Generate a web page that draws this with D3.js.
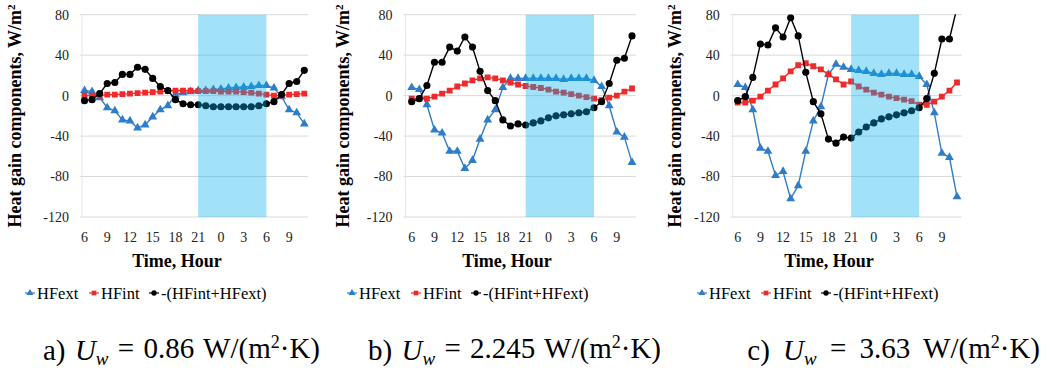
<!DOCTYPE html>
<html><head><meta charset="utf-8">
<script src="https://cdn.jsdelivr.net/npm/d3@7"></script>
<style>body{margin:0;background:#fff} svg{display:block}</style>
</head><body>
<svg id="chart" width="1049" height="377"></svg>
<script>
// ---------- DATA ----------
const hours = [6,7,8,9,10,11,12,13,14,15,16,17,18,19,20,21,22,23,0,1,2,3,4,5,6,7,8,9,10,11];
const tickIndex = [0,3,6,9,12,15,18,21,24,27];
const tickLabels = ["6","9","12","15","18","21","0","3","6","9"];
const yTicks = [80,40,0,-40,-80,-120];
const shadeIndex = [15,24]; // 21 h -> 6 h
const seriesNames = ["HFext","HFint","-(HFint+HFext)"];

const hfextA = [5,4,-2,-12,-15,-24,-25,-32,-29,-21,-14,-10,1,3,4,5,5,6,6.5,7.5,8,8.5,9,10,10,7.5,-1,-14,-17,-28];
const hfintA = [0,0,0,1,1,1.5,2,2.5,3,3.5,4,4.5,5,5,5,4.5,4.5,4.5,4,4,4,3.5,3,2,1,0,0,1,1.5,2];
const negSumA = [-5,-4,2,12,13,21,21,28,26,17,9,5,-4,-8,-9,-9,-10,-11,-11,-11,-11,-11,-11,-10,-8,-6,1,12,14,25];

const hfextB = [8,6,-9,-34,-37,-55,-55,-72,-64,-43,-24,-14,8,17,17,17,17,17,17,17,16,17,17,17,15,9,-10,-36,-41,-66];
const hfintB = [-3,-3,-3,-1,2,5,9,12,15,17,18,17,15,13,11,9.5,8.5,7.5,6,4,3,1.5,0,-1.5,-3,-4.5,-2,0,4,7];
const negSumB = [-6,-3,10,33,33,48,44,58,48,24,5,-5,-24,-30,-28,-29,-27,-25,-22,-20,-19,-18,-17,-16,-12,-6,12,35,37,59];

const hfextC = [11,8,-14,-52,-55,-79,-75,-102,-89,-55,-25,-11,21,31,28,26,25,24,22,21,22,22,21,21,19,11,-17,-57,-61,-100];
const hfintC = [-7,-7,-5,-1,5,11,17,24,30,32,29,26,21,16,11,14,9,6,3,1,-1,-2.5,-4,-5.5,-9,-9,-6,-1,5,13];
const negSumC = [-5,-1,18,51,50,67,58,77,59,23,-6,-18,-43,-47,-41,-42,-36,-31,-27,-23,-21,-19,-17,-15,-12,-3,22,56,56,87];

const uwValues = ["0.86","2.245","3.63"];
const panelLetters = ["a)","b)","c)"];

// ---------- LAYOUT ----------
const panels = [
  {ext:hfextA, int:hfintA, neg:negSumA, p0:84.5, p1:304.3, gl:80, gr:308.3, yTitleX:15, xTitleX:177, legX:30, capX:43, capAnchor:"start", capW:277},
  {ext:hfextB, int:hfintB, neg:negSumB, p0:411.7, p1:632, gl:403.5, gr:636, yTitleX:343, xTitleX:507, legX:352, capX:368, capAnchor:"start", capW:293},
  {ext:hfextC, int:hfintC, neg:negSumC, p0:737.7, p1:957, gl:730.7, gr:961.7, yTitleX:675, xTitleX:829, legX:702, capX:1040, capAnchor:"end", capW:305}
];
const colors = {ext:"#2F7DC8", int:"#F02A2A", neg:"#000000", shade:"rgba(0,176,240,0.37)", grid:"#D9D9D9"};
const serif = "'Liberation Serif','Times New Roman',serif";

const svg = d3.select("#chart");
svg.append("rect").attr("width",1049).attr("height",377).attr("fill","#fff");

const y = d3.scaleLinear().domain([-120,80]).range([217,14.7]);

const triangle = d3.symbol().type(d3.symbolTriangle).size(34);
const square = d3.symbol().type(d3.symbolSquare).size(34);
const circle = d3.symbol().type(d3.symbolCircle).size(40);

panels.forEach((p, pi) => {
  const g = svg.append("g");
  const x = d3.scalePoint().domain(d3.range(hours.length)).range([p.p0, p.p1]);
  const clipId = "clip" + pi;
  svg.append("defs").append("clipPath").attr("id", clipId)
    .append("rect").attr("x", p.gl).attr("y", y(80) - 0.5).attr("width", p.gr - p.gl + 6).attr("height", y(-120) - y(80) + 1);

  // gridlines
  g.selectAll("line.grid").data(yTicks).enter().append("line")
    .attr("x1", p.gl).attr("x2", p.gr).attr("y1", d => y(d)).attr("y2", d => y(d))
    .attr("stroke", colors.grid).attr("stroke-width", 1);
  g.append("line").attr("x1", p.gl + 2).attr("x2", p.gl + 2).attr("y1", y(80)).attr("y2", y(-120))
    .attr("stroke", "#E6E6E6").attr("stroke-width", 1);

  // y tick labels
  g.selectAll("text.yt").data(yTicks).enter().append("text")
    .attr("x", p.gl - 11).attr("y", d => y(d)).attr("dy", "0.35em")
    .attr("text-anchor", "end").attr("font-family", serif).attr("font-size", 14).attr("fill", "#222")
    .text(d => d);

  // x tick labels
  g.selectAll("text.xt").data(tickIndex).enter().append("text")
    .attr("x", d => x(d)).attr("y", 242)
    .attr("text-anchor", "middle").attr("font-family", serif).attr("font-size", 14).attr("fill", "#222")
    .text((d, i) => tickLabels[i]);

  // axis titles
  g.append("text").attr("transform", `translate(${p.yTitleX},116) rotate(-90)`)
    .attr("text-anchor", "middle").attr("dy", "0.35em")
    .attr("font-family", serif).attr("font-size", 18).attr("font-weight", "bold").attr("fill", "#000")
    .call(t => { t.append("tspan").text("Heat gain components,  W/m");
                 t.append("tspan").attr("font-size", 11).attr("dy", "-0.6em").text("2"); });
  g.append("text").attr("x", p.xTitleX).attr("y", 267).attr("text-anchor", "middle")
    .attr("font-family", serif).attr("font-size", 18).attr("font-weight", "bold").attr("fill", "#000")
    .text("Time, Hour");

  // series
  const plotG = g.append("g").attr("clip-path", `url(#${clipId})`);
  const line = d3.line().x((d, i) => x(i)).y(d => y(d));
  const series = [
    {vals:p.ext, color:colors.ext, sym:triangle},
    {vals:p.int, color:colors.int, sym:square},
    {vals:p.neg, color:colors.neg, sym:circle}
  ];
  series.forEach(s => {
    plotG.append("path").datum(s.vals).attr("d", line)
      .attr("fill", "none").attr("stroke", s.color).attr("stroke-width", 1.4);
    plotG.selectAll(null).data(s.vals).enter().append("path")
      .attr("d", s.sym).attr("transform", (d, i) => `translate(${x(i)},${y(d)})`)
      .attr("fill", s.color);
  });

  // night shade (drawn over series, semi-transparent)
  g.append("rect").attr("x", x(shadeIndex[0])).attr("width", x(shadeIndex[1]) - x(shadeIndex[0]))
    .attr("y", y(80)).attr("height", y(-120) - y(80)).attr("fill", colors.shade);

  // legend
  const leg = g.append("g").attr("transform", `translate(${p.legX},293)`);
  const legCols = [colors.ext, colors.int, colors.neg];
  const legOffsets = [0, 64, 124];
  seriesNames.forEach((nm, i) => {
    const lg = leg.append("g").attr("transform", `translate(${legOffsets[i]},0)`);
    lg.append("line").attr("x1", -5).attr("x2", 5).attr("y1", 0).attr("y2", 0)
      .attr("stroke", legCols[i]).attr("stroke-width", 1.2);
    lg.append("path").attr("d", d3.symbol().type([d3.symbolTriangle, d3.symbolSquare, d3.symbolCircle][i]).size(22)).attr("fill", legCols[i]);
    lg.append("text").attr("x", 7).attr("y", 0).attr("dy", "0.35em")
      .attr("font-family", serif).attr("font-size", 16.5).attr("fill", "#000").text(nm);
  });

  // caption
  const cap = svg.append("text").attr("x", p.capX).attr("y", 360).attr("text-anchor", p.capAnchor)
    .attr("font-family", serif).attr("font-size", 29).attr("fill", "#000");
  cap.append("tspan").text(panelLetters[pi] + " ");
  cap.append("tspan").attr("font-style", "italic").text("U");
  cap.append("tspan").attr("font-style", "italic").attr("font-size", 19).attr("dy", "0.25em").text("w");
  cap.append("tspan").attr("dy", "-0.25em").attr("font-size", 29).text(" = " + uwValues[pi] + " W/(m");
  cap.append("tspan").attr("font-size", 18).attr("dy", "-0.55em").text("2");
  cap.append("tspan").attr("font-size", 29).attr("dy", "0.35em").text("·K)");
  const w = cap.node().getComputedTextLength();
  if (p.capW > w) cap.attr("word-spacing", Math.min(6, (p.capW - w) / 4));
});
</script>
</body></html>
